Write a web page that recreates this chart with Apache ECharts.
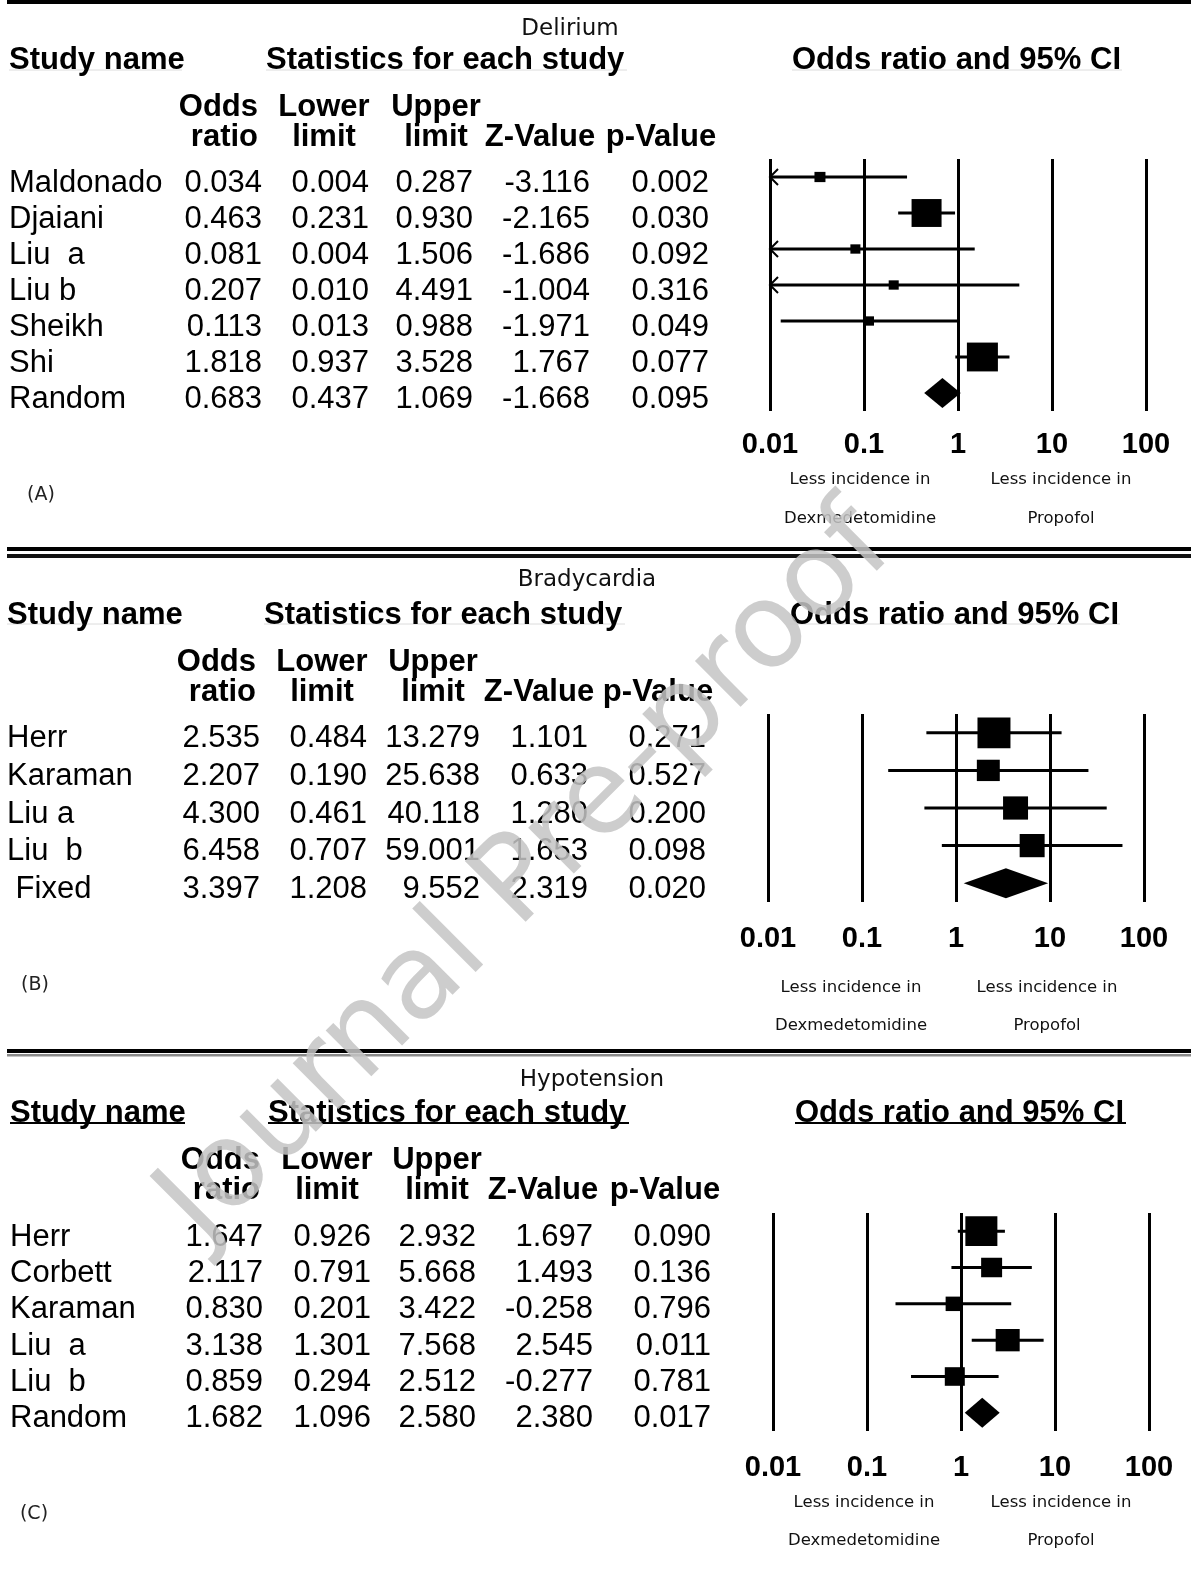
<!DOCTYPE html>
<html>
<head>
<meta charset="utf-8">
<script src="https://cdn.jsdelivr.net/npm/echarts@6/dist/echarts.min.js"></script>
<style>
  html, body { margin: 0; padding: 0; background: #fff; }
  #chart { width: 1191px; height: 1569px; }
</style>
</head>
<body>
<div id="chart"></div>
<script>
// ---------- Delirium ----------
const deliriumStudies = ['Maldonado', 'Djaiani', 'Liu  a', 'Liu b', 'Sheikh', 'Shi', 'Random'];
const deliriumOR    = [0.034, 0.463, 0.081, 0.207, 0.113, 1.818, 0.683];
const deliriumLower = [0.004, 0.231, 0.004, 0.010, 0.013, 0.937, 0.437];
const deliriumUpper = [0.287, 0.930, 1.506, 4.491, 0.988, 3.528, 1.069];
const deliriumZ     = [-3.116, -2.165, -1.686, -1.004, -1.971, 1.767, -1.668];
const deliriumP     = [0.002, 0.030, 0.092, 0.316, 0.049, 0.077, 0.095];
const deliriumWeight = [5.3, 39.4, 4.4, 4.4, 4.4, 42.1];   // relative weight (%) of each study

// ---------- Bradycardia ----------
const bradyStudies = ['Herr', 'Karaman', 'Liu a', 'Liu  b', ' Fixed'];
const bradyOR    = [2.535, 2.207, 4.300, 6.458, 3.397];
const bradyLower = [0.484, 0.190, 0.461, 0.707, 1.208];
const bradyUpper = [13.279, 25.638, 40.118, 59.001, 9.552];
const bradyZ     = [1.101, 0.633, 1.280, 1.653, 2.319];
const bradyP     = [0.271, 0.527, 0.200, 0.098, 0.020];
const bradyWeight = [38.0, 18.4, 21.8, 21.8];

// ---------- Hypotension ----------
const hypoStudies = ['Herr', 'Corbett', 'Karaman', 'Liu  a', 'Liu  b', 'Random'];
const hypoOR    = [1.647, 2.117, 0.830, 3.138, 0.859, 1.682];
const hypoLower = [0.926, 0.791, 0.201, 1.301, 0.294, 1.096];
const hypoUpper = [2.932, 5.668, 3.422, 7.568, 2.512, 2.580];
const hypoZ     = [1.697, 1.493, -0.258, 2.545, -0.277, 2.380];
const hypoP     = [0.090, 0.136, 0.796, 0.011, 0.781, 0.017];
const hypoWeight = [38.2, 16.4, 9.0, 21.5, 14.9];

const axisTickLabels = ['0.01', '0.1', '1', '10', '100'];
const columnHeads = [['Odds', 'ratio'], ['Lower', 'limit'], ['Upper', 'limit'], ['', 'Z-Value'], ['', 'p-Value']];

const FONT_TABLE = '"Liberation Sans", Arial, Helvetica, sans-serif';
const FONT_NOTE = '"DejaVu Sans", Verdana, sans-serif';
const TEXT_DY = 3;   // nudges 'middle'-aligned glyphs onto the visual row centre

const panels = [
  {
    title: 'Delirium', tag: '(A)',
    studies: deliriumStudies, or: deliriumOR, lo: deliriumLower, hi: deliriumUpper,
    z: deliriumZ, p: deliriumP, weight: deliriumWeight, boxScale: 4.78,
    grid: { left: 770, top: 159, height: 252 }, labelMargin: 19, textDy: 3,
    titleY: 26, titleX: 570, headY: 57, headX: [9, 266, 792], headW: [173, 361, 330],
    underline: { y: 70, color: '#dcdcdc', width: 1 },
    subY: [104, 134], orHeadRight: 258, colCenters: [324, 436, 540, 661],
    nameX: 9, colRight: [262, 369, 473, 590, 709],
    noteY: [477, 516], noteX: [860, 1061], tagPos: [41, 492]
  },
  {
    title: 'Bradycardia', tag: '(B)',
    studies: bradyStudies, or: bradyOR, lo: bradyLower, hi: bradyUpper,
    z: bradyZ, p: bradyP, weight: bradyWeight, boxScale: 5.35,
    grid: { left: 768, top: 714, height: 188 }, labelMargin: 22, textDy: 3,
    titleY: 577, titleX: 587, headY: 612, headX: [7, 264, 790], headW: [173, 361, 330],
    underline: { y: 624, color: '#dcdcdc', width: 1 },
    subY: [659, 689], orHeadRight: 256, colCenters: [322, 433, 539, 658],
    nameX: 7, colRight: [260, 367, 480, 588, 706],
    noteY: [985, 1023], noteX: [851, 1047], tagPos: [35, 982]
  },
  {
    title: 'Hypotension', tag: '(C)',
    studies: hypoStudies, or: hypoOR, lo: hypoLower, hi: hypoUpper,
    z: hypoZ, p: hypoP, weight: hypoWeight, boxScale: 5.18,
    grid: { left: 773, top: 1213, height: 218 }, labelMargin: 22, textDy: 3,
    titleY: 1077, titleX: 592, headY: 1110, headX: [10, 268, 795], headW: [175, 361, 331],
    underline: { y: 1123, color: '#000', width: 2 },
    subY: [1157, 1187], orHeadRight: 260, colCenters: [327, 437, 543, 665],
    nameX: 10, colRight: [263, 371, 476, 593, 711],
    noteY: [1500, 1538], noteX: [864, 1061], tagPos: [34, 1511]
  }
];

// Draws one forest-plot row: CI whisker (arrow when clipped at 0.01),
// a weight-scaled box for studies and a diamond for the pooled estimate.
function forestRenderer(panel) {
  const n = panel.or.length;
  const floor = 0.01;
  return function (params, api) {
    const row = api.value(0);
    const or = api.value(1), lo = api.value(2), hi = api.value(3);
    const pl = api.coord([Math.max(lo, floor), row]);
    const ph = api.coord([hi, row]);
    const pm = api.coord([or, row]);
    const y = pm[1];
    if (params.dataIndex === n - 1) {
      const h = 30;
      return {
        type: 'polygon',
        shape: { points: [[pl[0], y], [pm[0], y - h / 2], [ph[0], y], [pm[0], y + h / 2]] },
        style: { fill: '#000' }
      };
    }
    const children = [{
      type: 'line',
      shape: { x1: pl[0], y1: y, x2: ph[0], y2: y },
      style: { stroke: '#000', lineWidth: 3 }
    }];
    if (lo <= floor) {
      children.push({
        type: 'polyline',
        shape: { points: [[pl[0] + 8, y - 8], [pl[0], y], [pl[0] + 8, y + 8]] },
        style: { stroke: '#000', lineWidth: 2, fill: null }
      });
    }
    const s = panel.boxScale * Math.sqrt(api.value(4));
    const h = s * 0.93;
    children.push({
      type: 'rect',
      shape: { x: pm[0] - s / 2, y: y - h / 2, width: s, height: h },
      style: { fill: '#000' }
    });
    return { type: 'group', children: children };
  };
}

const chart = echarts.init(document.getElementById('chart'), null, { renderer: 'canvas' });

chart.setOption({
  backgroundColor: '#fff',
  animation: false,
  grid: panels.map(p => ({ left: p.grid.left, top: p.grid.top, width: 376, height: p.grid.height })),
  xAxis: panels.map((p, k) => ({
    type: 'log', logBase: 10, min: 0.01, max: 100, gridIndex: k,
    axisLine: { show: false }, axisTick: { show: false },
    splitLine: { show: true, lineStyle: { color: '#000', width: 3 } },
    axisLabel: {
      margin: p.labelMargin, color: '#000', fontSize: 29, fontWeight: 'bold',
      fontFamily: FONT_TABLE, showMinLabel: true, showMaxLabel: true,
      formatter: v => axisTickLabels[Math.round(Math.log10(v)) + 2]
    }
  })),
  yAxis: panels.map((p, k) => ({
    type: 'value', gridIndex: k, inverse: true, min: -0.5, max: p.or.length - 0.5, show: false
  })),
  series: panels.map((p, k) => ({
    type: 'custom', xAxisIndex: k, yAxisIndex: k, clip: false, z: 5,
    renderItem: forestRenderer(p),
    encode: { x: [1, 2, 3], y: 0 },
    data: p.or.map((v, i) => [i, v, p.lo[i], p.hi[i], p.weight[i] !== undefined ? p.weight[i] : 0])
  }))
});

// ---------- text table, headings, rules ----------
function txt(x, y, text, o) {
  o = o || {};
  return {
    type: 'text', x: x, y: y + TEXT_DY, z: o.z || 10, silent: true,
    style: {
      text: text, fill: o.fill || '#000',
      fontSize: o.size || 31, fontFamily: o.family || FONT_TABLE,
      fontWeight: o.weight || 'normal',
      align: o.align || 'left', verticalAlign: 'middle',
      opacity: o.opacity === undefined ? 1 : o.opacity
    }
  };
}
function bar(x, y, w, h, fill) {
  return { type: 'rect', silent: true, z: 10, shape: { x: x, y: y, width: w, height: h }, style: { fill: fill } };
}

const g = [];
// panel rules
g.push(bar(7, 0, 1184, 4, '#000'));
g.push(bar(7, 547, 1184, 4, '#000'));
g.push(bar(7, 554, 1184, 4, '#111'));
g.push(bar(7, 1049, 1184, 4, '#000'));
g.push(bar(7, 1054, 1184, 2.5, '#8a8a8a'));

panels.forEach((p, k) => {
  g.push(txt(p.titleX, p.titleY, p.title, { size: 23, family: FONT_NOTE, align: 'center', fill: '#111' }));
  ['Study name', 'Statistics for each study', 'Odds ratio and 95% CI'].forEach((h, j) => {
    g.push(txt(p.headX[j], p.headY, h, { weight: 'bold' }));
    g.push({
      type: 'line', silent: true, z: 9,
      shape: { x1: p.headX[j], y1: p.underline.y, x2: p.headX[j] + p.headW[j], y2: p.underline.y },
      style: { stroke: p.underline.color, lineWidth: p.underline.width }
    });
  });
  // column headings
  g.push(txt(p.orHeadRight, p.subY[0], columnHeads[0][0], { weight: 'bold', align: 'right' }));
  g.push(txt(p.orHeadRight, p.subY[1], columnHeads[0][1], { weight: 'bold', align: 'right' }));
  for (let c = 1; c < columnHeads.length; c++) {
    if (columnHeads[c][0]) g.push(txt(p.colCenters[c - 1], p.subY[0], columnHeads[c][0], { weight: 'bold', align: 'center' }));
    g.push(txt(p.colCenters[c - 1], p.subY[1], columnHeads[c][1], { weight: 'bold', align: 'center' }));
  }
  // rows, aligned with the forest rows
  p.studies.forEach((name, i) => {
    const y = chart.convertToPixel({ yAxisIndex: k }, i) + p.textDy;
    const cells = [p.or[i], p.lo[i], p.hi[i], p.z[i], p.p[i]];
    g.push(txt(p.nameX, y, name));
    cells.forEach((v, c) => g.push(txt(p.colRight[c], y, v.toFixed(3), { align: 'right' })));
  });
  // direction notes under the axis
  g.push(txt(p.noteX[0], p.noteY[0], 'Less incidence in', { size: 16.5, family: FONT_NOTE, align: 'center', fill: '#111' }));
  g.push(txt(p.noteX[1], p.noteY[0], 'Less incidence in', { size: 16.5, family: FONT_NOTE, align: 'center', fill: '#111' }));
  g.push(txt(p.noteX[0], p.noteY[1], 'Dexmedetomidine', { size: 16.5, family: FONT_NOTE, align: 'center', fill: '#111' }));
  g.push(txt(p.noteX[1], p.noteY[1], 'Propofol', { size: 16.5, family: FONT_NOTE, align: 'center', fill: '#111' }));
  g.push(txt(p.tagPos[0], p.tagPos[1], p.tag, { size: 19, family: FONT_NOTE, align: 'center', fill: '#222' }));
});

// diagonal watermark
g.push({
  type: 'text', x: 528, y: 876, rotation: Math.PI / 4, z: 100, silent: true,
  style: {
    text: 'Journal Pre-proof', fontSize: 118, fontFamily: FONT_NOTE,
    fill: '#c4c4c4', opacity: 0.85, align: 'center', verticalAlign: 'middle'
  }
});

chart.setOption({ graphic: g });
</script>
</body>
</html>
